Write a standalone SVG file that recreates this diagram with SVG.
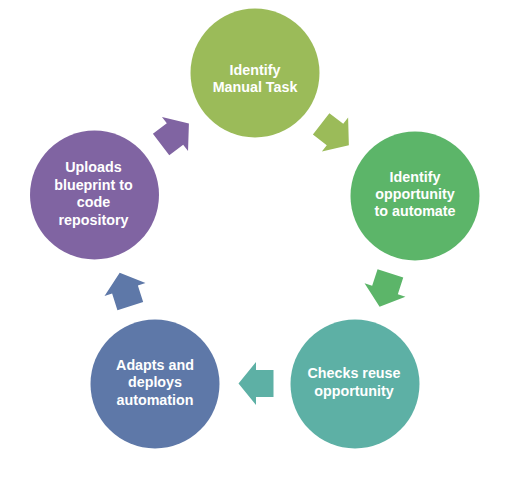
<svg xmlns="http://www.w3.org/2000/svg" width="507" height="482" viewBox="0 0 507 482">
<style>
text{font-family:"Liberation Sans",Arial,sans-serif;font-weight:bold;font-size:14.3px;fill:#fff;text-anchor:middle}
</style>
<defs>
<path id="arr" d="M-17.5,-13.5 L0,-13.5 L0,-21.5 L17.5,0 L0,21.5 L0,13.5 L-17.5,13.5 Z"/>
</defs>
<rect width="507" height="482" fill="#fff"/>
<g id="connectors">
<use href="#arr" fill="#9BBB59" transform="translate(335,134.5) rotate(37.6)"/>
<use href="#arr" fill="#5CB569" transform="translate(385,290) rotate(108)"/>
<use href="#arr" fill="#5DB0A5" transform="translate(256,383.5) rotate(180)"/>
<use href="#arr" fill="#5E78A8" transform="translate(125,289.5) rotate(-107.6)"/>
<use href="#arr" fill="#8064A2" transform="translate(175,134) rotate(-37.3)"/>
</g>
<g id="n1">
<circle cx="255" cy="73" r="64.5" fill="#9BBB59"/>
<text x="255" y="75">Identify</text>
<text x="255" y="92">Manual Task</text>
</g>
<g id="n2">
<circle cx="415" cy="196" r="64.5" fill="#5CB569"/>
<text x="415" y="182">Identify</text>
<text x="415" y="199">opportunity</text>
<text x="415" y="216">to automate</text>
</g>
<g id="n3">
<circle cx="355" cy="384" r="64.5" fill="#5DB0A5"/>
<text x="354" y="378">Checks reuse</text>
<text x="354" y="395.5">opportunity</text>
</g>
<g id="n4">
<circle cx="155" cy="384" r="64.5" fill="#5E78A8"/>
<text x="155" y="370">Adapts and</text>
<text x="155" y="387">deploys</text>
<text x="155" y="404.5">automation</text>
</g>
<g id="n5">
<circle cx="94.5" cy="195" r="64.5" fill="#8064A2"/>
<text x="93.5" y="172">Uploads</text>
<text x="93.5" y="189.5">blueprint to</text>
<text x="93.5" y="207">code</text>
<text x="93.5" y="224.5">repository</text>
</g>
</svg>
